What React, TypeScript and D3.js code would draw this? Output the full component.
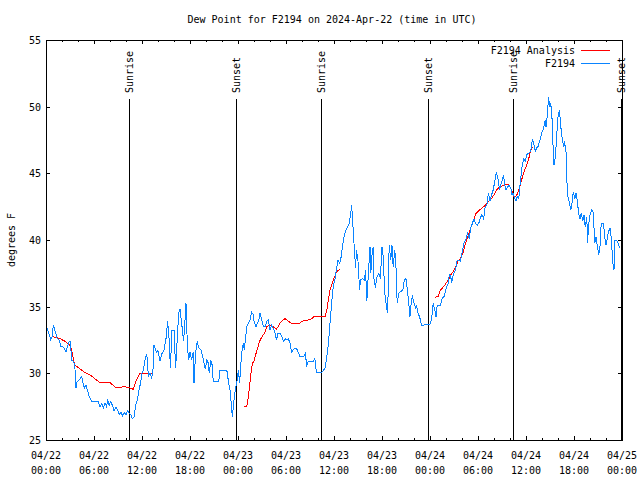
import React, { useEffect, useRef } from 'react';
import * as d3 from 'd3';

// hours after 2024-04-22 00:00 UTC, dew point in degrees F
const obs: [number, number][] = [
  [0.0, 33.6], [0.08, 33.5], [0.3, 33.1], [0.58, 32.55], [0.75, 32.75], [0.92, 33.6], [1.1, 33.25], [1.4, 32.6],
  [1.67, 32.5], [1.83, 32.0], [2.1, 32.0], [2.25, 31.9], [2.5, 31.6], [2.67, 32.0], [2.9, 32.4], [3.08, 32.4],
  [3.17, 31.0], [3.4, 30.9], [3.6, 30.6], [3.75, 28.9], [3.9, 29.4], [4.17, 29.5], [4.46, 29.75], [4.58, 29.4],
  [4.8, 28.9], [5.0, 29.1], [5.17, 28.75], [5.4, 28.25], [5.7, 27.9], [6.1, 27.9], [6.5, 27.9], [6.75, 27.5],
  [6.96, 27.75], [7.17, 27.4], [7.375, 27.8], [7.58, 27.5], [7.7, 28.05], [7.9, 27.6], [8.1, 27.9], [8.33, 27.55],
  [8.5, 27.2], [8.75, 27.45], [8.96, 27.25], [9.17, 26.9], [9.375, 27.1], [9.58, 26.8], [9.8, 27.05], [10.0, 26.9],
  [10.2, 27.2], [10.4, 27.0], [10.6, 26.9], [10.8, 26.6], [11.0, 26.7], [11.2, 27.6], [11.45, 28.1], [11.67, 28.9],
  [11.8, 29.2], [12.0, 30.0], [12.17, 30.25], [12.4, 31.1], [12.6, 31.45], [12.8, 29.75], [13.0, 30.05], [13.2, 29.6],
  [13.4, 30.4], [13.5, 32.1], [13.7, 31.75], [13.8, 31.6], [14.0, 31.7], [14.25, 30.9], [14.46, 31.45], [14.75, 31.75],
  [15.0, 32.6], [15.2, 33.9], [15.4, 32.5], [15.55, 30.4], [15.75, 33.25], [16.0, 33.25], [16.2, 30.4], [16.4, 32.5],
  [16.58, 34.5], [16.75, 34.8], [16.96, 33.75], [17.2, 32.4], [17.3, 33.25], [17.5, 35.25], [17.67, 32.1], [17.83, 31.0],
  [18.0, 31.6], [18.2, 31.0], [18.4, 31.6], [18.5, 29.25], [18.7, 31.5], [18.9, 32.4], [19.1, 31.9], [19.4, 31.75],
  [19.67, 31.0], [19.9, 30.3], [20.1, 31.0], [20.3, 30.75], [20.4, 30.0], [20.6, 31.0], [20.8, 30.55], [20.9, 29.4],
  [21.6, 29.4], [21.75, 30.25], [22.6, 30.25], [22.8, 29.4], [23.0, 28.75], [23.2, 27.4], [23.3, 26.75], [23.5, 28.0],
  [23.7, 28.9], [23.9, 29.5], [24.04, 30.25], [24.2, 29.25], [24.3, 30.25], [24.46, 31.5], [24.67, 32.25], [24.8, 31.75],
  [24.9, 32.4], [25.1, 33.5], [25.3, 33.75], [25.5, 34.0], [25.7, 34.6], [25.9, 34.4], [26.0, 33.9], [26.25, 33.5],
  [26.4, 33.75], [26.6, 34.0], [26.75, 34.55], [26.96, 34.0], [27.2, 33.5], [27.4, 33.5], [27.6, 33.9], [27.8, 34.0],
  [28.0, 33.25], [28.2, 33.6], [28.4, 33.4], [28.6, 33.1], [28.8, 32.5], [29.0, 33.0], [29.25, 33.0], [29.5, 32.75],
  [29.7, 32.4], [29.9, 32.6], [30.1, 32.5], [30.3, 32.6], [30.5, 32.25], [30.7, 31.6], [30.9, 31.75], [31.1, 31.9],
  [31.3, 31.9], [31.5, 31.6], [31.75, 31.25], [32.2, 31.25], [32.4, 31.5], [32.6, 30.6], [32.8, 30.9], [33.4, 30.9],
  [33.6, 31.1], [33.8, 30.1], [34.5, 30.1], [34.7, 30.25], [34.9, 30.4], [35.1, 31.25], [35.3, 32.25], [35.5, 33.75],
  [35.7, 35.25], [35.9, 36.5], [36.1, 37.0], [36.3, 37.75], [36.5, 38.5], [36.7, 38.25], [36.9, 38.75], [37.0, 39.25],
  [37.25, 40.25], [37.5, 40.75], [37.7, 40.95], [37.9, 41.25], [38.1, 42.0], [38.2, 42.6], [38.3, 41.75], [38.5, 39.75],
  [38.7, 37.9], [38.8, 39.25], [39.0, 38.4], [39.2, 36.25], [39.3, 37.0], [39.6, 37.1], [39.8, 37.0], [39.95, 37.75],
  [40.1, 35.4], [40.3, 37.5], [40.5, 39.5], [40.6, 37.5], [40.75, 38.9], [40.9, 39.5], [41.0, 37.1], [41.2, 36.4],
  [41.3, 37.1], [41.6, 37.5], [41.8, 37.1], [42.0, 39.5], [42.2, 38.5], [42.3, 36.25], [42.5, 35.25], [42.7, 34.5],
  [42.8, 36.9], [42.9, 39.6], [43.1, 38.5], [43.25, 39.6], [43.4, 38.0], [43.6, 39.25], [43.75, 37.9], [43.9, 35.25],
  [44.1, 36.0], [44.25, 36.1], [44.6, 36.25], [44.8, 37.0], [45.0, 37.1], [45.2, 36.1], [45.3, 35.5], [45.5, 34.25],
  [45.7, 35.6], [45.8, 35.75], [46.0, 35.25], [46.2, 34.9], [46.3, 35.1], [46.5, 34.5], [46.7, 34.25], [46.95, 33.6],
  [48.0, 33.7], [48.2, 34.1], [48.4, 35.25], [48.6, 34.75], [48.75, 34.25], [48.9, 35.1], [49.3, 35.1], [49.5, 35.6],
  [49.75, 35.75], [49.9, 36.1], [50.1, 36.5], [50.3, 36.75], [50.4, 37.4], [50.6, 37.25], [50.7, 36.75], [50.9, 37.4],
  [51.1, 37.6], [51.25, 38.0], [51.4, 38.5], [51.6, 38.5], [51.8, 38.4], [52.0, 39.0], [52.25, 39.75], [52.5, 40.1],
  [52.7, 40.5], [52.9, 40.1], [53.1, 40.9], [53.3, 41.25], [53.5, 41.6], [53.7, 41.25], [53.9, 41.1], [54.1, 41.25],
  [54.25, 41.6], [54.5, 41.9], [54.7, 41.6], [54.9, 42.5], [55.1, 42.6], [55.3, 43.5], [55.5, 42.9], [55.7, 43.4],
  [55.9, 43.75], [56.1, 44.4], [56.3, 45.1], [56.5, 44.6], [56.7, 43.75], [56.8, 44.1], [57.0, 44.4], [57.2, 44.9],
  [57.3, 44.25], [57.5, 43.75], [57.7, 44.0], [57.9, 44.1], [58.1, 43.9], [58.25, 43.4], [58.4, 43.5], [58.6, 43.1],
  [58.75, 42.9], [58.9, 43.25], [59.1, 43.1], [59.25, 44.1], [59.5, 45.5], [59.7, 46.1], [59.9, 45.9], [60.1, 46.4],
  [60.3, 46.5], [60.5, 46.6], [60.7, 47.0], [60.8, 47.6], [61.0, 47.1], [61.2, 46.6], [61.3, 46.9], [61.5, 47.0],
  [61.75, 47.5], [61.96, 48.0], [62.2, 48.4], [62.4, 49.0], [62.5, 48.5], [62.7, 49.5], [62.8, 50.7], [63.0, 50.0],
  [63.1, 50.25], [63.3, 48.75], [63.4, 46.6], [63.5, 45.6], [63.7, 46.4], [63.8, 47.5], [64.0, 49.25], [64.2, 49.75],
  [64.3, 48.75], [64.5, 47.75], [64.7, 47.0], [64.8, 47.4], [65.0, 46.6], [65.1, 44.5], [65.25, 43.25], [65.4, 42.9],
  [65.6, 42.25], [65.75, 42.75], [65.9, 43.6], [66.1, 43.1], [66.25, 43.5], [66.4, 43.0], [66.6, 41.9], [66.75, 41.6],
  [66.9, 42.0], [67.1, 41.4], [67.25, 41.9], [67.4, 41.0], [67.6, 41.75], [67.7, 39.75], [67.8, 41.0], [68.0, 41.9],
  [68.2, 42.25], [68.4, 42.1], [68.6, 39.75], [68.75, 40.25], [68.9, 39.6], [69.1, 38.9], [69.25, 39.5], [69.4, 41.25],
  [69.7, 41.25], [69.8, 40.4], [70.0, 39.6], [70.2, 40.25], [70.3, 40.6], [70.5, 40.9], [70.7, 40.0], [70.8, 38.5],
  [71.0, 37.75], [71.1, 40.0], [71.3, 40.0], [71.5, 39.75], [71.75, 39.4],
];

// analysis comes in three runs, with gaps between them
const analysisRun1: [number, number][] = [
  [0.83, 32.75], [1.75, 32.6], [2.4, 32.4], [3.0, 32.1], [3.2, 31.75], [3.6, 30.6], [4.0, 30.45], [4.9, 30.05],
  [5.7, 29.8], [6.3, 29.5], [6.75, 29.3], [8.0, 29.3], [8.8, 28.9], [9.67, 29.0], [10.3, 28.95], [10.9, 28.8],
  [11.3, 29.5], [11.75, 30.0], [13.2, 30.0],
];
const analysisRun2: [number, number][] = [
  [24.75, 27.5], [25.1, 27.5], [25.3, 28.25], [25.6, 29.9], [25.8, 30.75], [26.0, 30.9], [26.3, 31.6], [26.7, 32.4],
  [27.0, 32.75], [27.3, 33.0], [27.6, 33.5], [28.0, 33.6], [28.4, 33.5], [28.8, 33.3], [29.25, 33.75], [29.6, 34.0],
  [29.9, 34.1], [30.3, 33.9], [30.7, 33.75], [31.75, 33.75], [31.96, 33.9], [32.4, 33.95], [32.8, 34.0], [33.2, 34.1],
  [33.6, 34.3], [34.25, 34.3], [34.9, 34.25], [35.1, 34.75], [35.3, 35.5], [35.5, 36.25], [35.7, 36.6], [35.9, 37.0],
  [36.1, 37.25], [36.3, 37.6], [36.7, 37.8],
];
const analysisRun3: [number, number][] = [
  [48.6, 35.7], [49.0, 35.75], [49.3, 36.25], [49.7, 36.5], [50.0, 36.75], [50.3, 37.0], [50.6, 37.4], [50.9, 37.6],
  [51.25, 38.05], [51.5, 38.4], [51.8, 38.6], [52.1, 39.0], [52.4, 39.7], [52.6, 40.0], [52.9, 40.6], [53.2, 41.1],
  [53.5, 41.6], [53.75, 42.0], [54.1, 42.2], [54.5, 42.4], [54.9, 42.6], [55.3, 42.9], [55.7, 43.1], [56.0, 43.4],
  [56.3, 43.75], [56.75, 44.0], [57.2, 44.1], [57.7, 44.2], [58.0, 44.0], [58.3, 43.6], [58.5, 43.25], [58.8, 43.3],
  [59.1, 43.75], [59.4, 44.4], [59.7, 45.0], [60.0, 45.5], [60.3, 46.0], [60.6, 46.75], [60.8, 47.0],
];

const sunLabels = ['Sunrise', 'Sunset', 'Sunrise', 'Sunset', 'Sunrise', 'Sunset'];
const sunHours = [10.375, 23.75, 34.375, 47.75, 58.375, 71.875];

const yTicks = [25, 30, 35, 40, 45, 50, 55];
const legendNames = ['F2194 Analysis', 'F2194'];
const colors = ['#ff0000', '#0a84ff'];

const start = Date.UTC(2024, 3, 22, 0, 0);
const toDate = (h: number) => new Date(start + h * 3600 * 1000);

const W = 640;
const H = 480;
const FONT = '"DejaVu Sans Mono", "Liberation Mono", monospace';

const App: React.FC = () => {
  const svgRef = useRef<SVGSVGElement>(null);

  useEffect(() => {
    if (!svgRef.current) return;
    const svg = d3.select(svgRef.current);
    svg.selectAll('*').remove();

    const left = 46;
    const right = 622;
    const top = 40;
    const bottom = 440;

    const x = d3.scaleUtc().domain([toDate(0), toDate(72)]).range([left, right]);
    const y = d3.scaleLinear().domain([25, 55]).range([bottom, top]);

    svg.append('rect').attr('width', W).attr('height', H).attr('fill', '#fff');

    // Title
    svg
      .append('text')
      .attr('x', 332)
      .attr('y', 23)
      .attr('text-anchor', 'middle')
      .attr('font-size', 10)
      .attr('font-family', FONT)
      .text('Dew Point for F2194 on 2024-Apr-22 (time in UTC)');

    // Y label
    svg
      .append('text')
      .attr('transform', `translate(15, 240) rotate(-90)`)
      .attr('text-anchor', 'middle')
      .attr('font-size', 10)
      .attr('font-family', FONT)
      .text('degrees F');

    const axes = svg.append('g').attr('shape-rendering', 'crispEdges').attr('stroke', '#000');

    // x ticks: major every 6h, minor every 2h, drawn inward on bottom and top
    const majorX = d3.utcHour.every(6)!.range(toDate(0), toDate(72.01));
    const minorX = d3.utcHour.every(2)!.range(toDate(0), toDate(72.01));
    minorX.forEach((d) => {
      const len = d.getUTCHours() % 6 === 0 ? 4 : 2;
      const px = Math.round(x(d)) + 0.5;
      axes.append('line').attr('x1', px).attr('x2', px).attr('y1', bottom).attr('y2', bottom - len);
      axes.append('line').attr('x1', px).attr('x2', px).attr('y1', top).attr('y2', top + len);
    });

    yTicks.forEach((v) => {
      const py = Math.round(y(v)) + 0.5;
      axes.append('line').attr('x1', left).attr('x2', left + 4).attr('y1', py).attr('y2', py);
      axes.append('line').attr('x1', right - 4).attr('x2', right).attr('y1', py).attr('y2', py);
    });

    // y tick labels
    svg
      .append('g')
      .selectAll('text')
      .data(yTicks)
      .join('text')
      .attr('x', 41)
      .attr('y', (d) => y(d) + 4)
      .attr('text-anchor', 'end')
      .attr('font-size', 10)
      .attr('font-family', FONT)
      .text((d) => d);

    // x tick labels (two lines)
    const fmtDay = d3.utcFormat('%m/%d');
    const fmtTime = d3.utcFormat('%H:%M');
    const xl = svg.append('g').attr('font-size', 10).attr('font-family', FONT).attr('text-anchor', 'middle');
    majorX.forEach((d) => {
      xl.append('text').attr('x', x(d)).attr('y', 459).text(fmtDay(d));
      xl.append('text').attr('x', x(d)).attr('y', 474).text(fmtTime(d));
    });

    // Sunrise / sunset markers
    const sun = svg.append('g');
    sunHours.forEach((h, i) => {
      const px = Math.round(x(toDate(h))) + 0.5;
      sun
        .append('line')
        .attr('x1', px)
        .attr('x2', px)
        .attr('y1', 99)
        .attr('y2', bottom)
        .attr('stroke', '#000')
        .attr('shape-rendering', 'crispEdges');
      sun
        .append('text')
        .attr('transform', `translate(${px}, 93) rotate(-90)`)
        .attr('dy', '0.35em')
        .attr('font-size', 10)
        .attr('font-family', FONT)
        .text(sunLabels[i]);
    });

    // Series
    const line = d3
      .line<[number, number]>()
      .x((d) => x(toDate(d[0])))
      .y((d) => y(d[1]));

    [analysisRun1, analysisRun2, analysisRun3].forEach((run) => {
      svg
        .append('path')
        .attr('d', line(run))
        .attr('fill', 'none')
        .attr('stroke', colors[0])
        .attr('stroke-width', 1)
        .attr('shape-rendering', 'crispEdges');
    });

    svg
      .append('path')
      .attr('d', line(obs))
      .attr('fill', 'none')
      .attr('stroke', colors[1])
      .attr('stroke-width', 1)
      .attr('shape-rendering', 'crispEdges');

    // Legend
    const lg = svg.append('g').attr('font-size', 10).attr('font-family', FONT);
    legendNames.forEach((name, i) => {
      const ly = 50 + i * 13;
      lg.append('text').attr('x', 575).attr('y', ly + 4).attr('text-anchor', 'end').text(name);
      lg.append('line')
        .attr('x1', 581)
        .attr('x2', 610)
        .attr('y1', ly + 0.5)
        .attr('y2', ly + 0.5)
        .attr('stroke', colors[i])
        .attr('shape-rendering', 'crispEdges');
    });

    // Frame
    svg
      .append('rect')
      .attr('x', left + 0.5)
      .attr('y', top + 0.5)
      .attr('width', right - left)
      .attr('height', bottom - top)
      .attr('fill', 'none')
      .attr('stroke', '#000')
      .attr('shape-rendering', 'crispEdges');
  }, []);

  return (
    <svg
      ref={svgRef}
      width={W}
      height={H}
      style={{ position: 'absolute', left: 0, top: 0, display: 'block' }}
    />
  );
};

export default App;
